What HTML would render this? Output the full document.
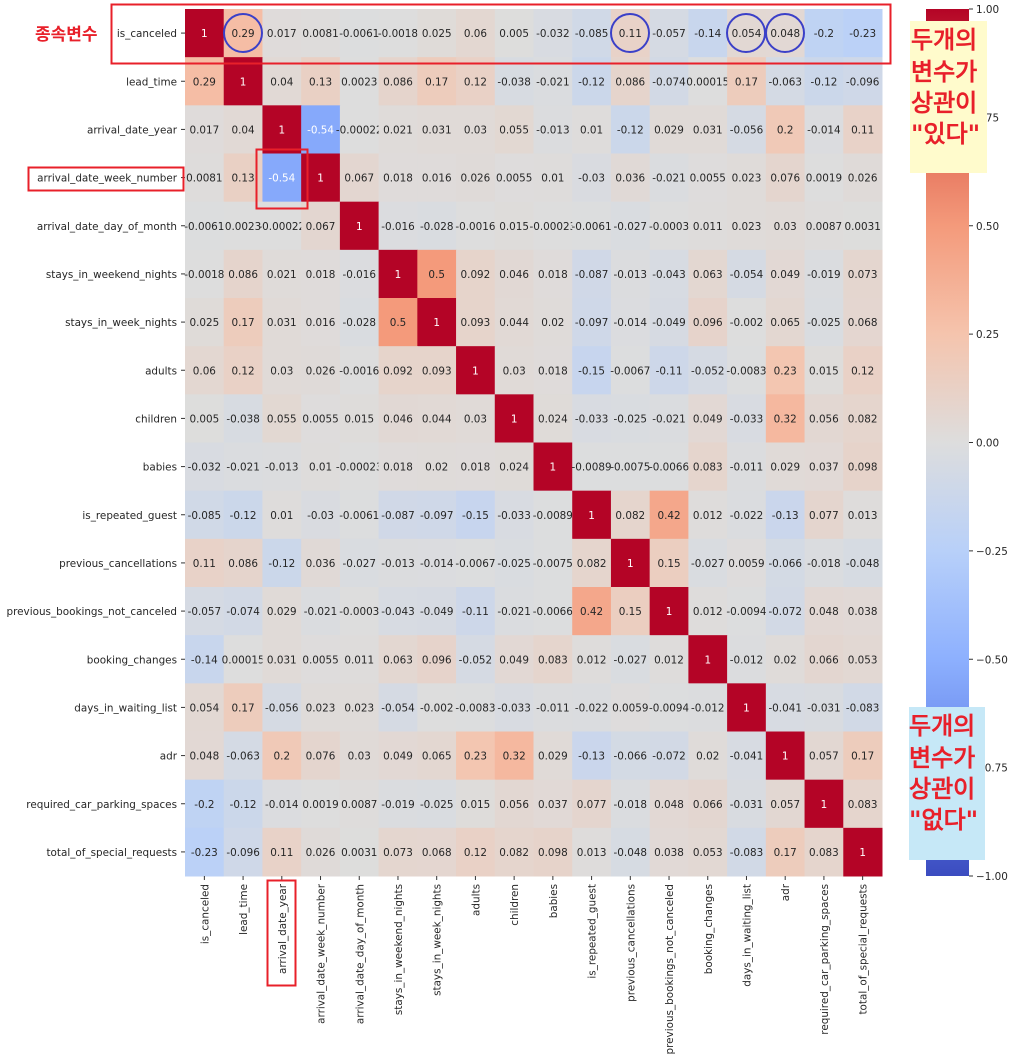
<!DOCTYPE html>
<html><head><meta charset="utf-8"><style>
body{margin:0;background:#fff;width:1013px;height:1059px;overflow:hidden;font-family:"Liberation Sans","DejaVu Sans",sans-serif}
svg text{font-family:"DejaVu Sans","Liberation Sans",sans-serif}
.kr{font-family:"Liberation Sans","Noto Sans CJK KR",sans-serif;font-weight:bold}
</style></head><body>
<svg id="chart" width="1013" height="1059" xmlns="http://www.w3.org/2000/svg">
<defs><linearGradient id="cbg" x1="0" y1="1" x2="0" y2="0">
<stop offset="0" stop-color="rgb(59,76,192)"/><stop offset="0.125" stop-color="rgb(98,130,234)"/><stop offset="0.25" stop-color="rgb(141,176,254)"/><stop offset="0.375" stop-color="rgb(184,208,249)"/><stop offset="0.5" stop-color="rgb(221,221,221)"/><stop offset="0.625" stop-color="rgb(245,196,173)"/><stop offset="0.75" stop-color="rgb(244,154,123)"/><stop offset="0.875" stop-color="rgb(222,96,77)"/><stop offset="1" stop-color="rgb(180,4,38)"/></linearGradient></defs>
<g id="cells"></g><g id="labels"></g>
<g id="cbar"></g>
</svg>
<script>
const labels=["is_canceled","lead_time","arrival_date_year","arrival_date_week_number","arrival_date_day_of_month","stays_in_weekend_nights","stays_in_week_nights","adults","children","babies","is_repeated_guest","previous_cancellations","previous_bookings_not_canceled","booking_changes","days_in_waiting_list","adr","required_car_parking_spaces","total_of_special_requests"];
const r0=[1,0.29,0.017,0.0081,-0.0061,-0.0018,0.025,0.06,0.005,-0.032,-0.085,0.11,-0.057,-0.14,0.054,0.048,-0.2,-0.23];
const r1=[0.29,1,0.04,0.13,0.0023,0.086,0.17,0.12,-0.038,-0.021,-0.12,0.086,-0.074,0.00015,0.17,-0.063,-0.12,-0.096];
const r2=[0.017,0.04,1,-0.54,-0.00022,0.021,0.031,0.03,0.055,-0.013,0.01,-0.12,0.029,0.031,-0.056,0.2,-0.014,0.11];
const r3=[0.0081,0.13,-0.54,1,0.067,0.018,0.016,0.026,0.0055,0.01,-0.03,0.036,-0.021,0.0055,0.023,0.076,0.0019,0.026];
const r4=[-0.0061,0.0023,-0.00022,0.067,1,-0.016,-0.028,-0.0016,0.015,-0.00023,-0.0061,-0.027,-0.0003,0.011,0.023,0.03,0.0087,0.0031];
const r5=[-0.0018,0.086,0.021,0.018,-0.016,1,0.5,0.092,0.046,0.018,-0.087,-0.013,-0.043,0.063,-0.054,0.049,-0.019,0.073];
const r6=[0.025,0.17,0.031,0.016,-0.028,0.5,1,0.093,0.044,0.02,-0.097,-0.014,-0.049,0.096,-0.002,0.065,-0.025,0.068];
const r7=[0.06,0.12,0.03,0.026,-0.0016,0.092,0.093,1,0.03,0.018,-0.15,-0.0067,-0.11,-0.052,-0.0083,0.23,0.015,0.12];
const r8=[0.005,-0.038,0.055,0.0055,0.015,0.046,0.044,0.03,1,0.024,-0.033,-0.025,-0.021,0.049,-0.033,0.32,0.056,0.082];
const r9=[-0.032,-0.021,-0.013,0.01,-0.00023,0.018,0.02,0.018,0.024,1,-0.0089,-0.0075,-0.0066,0.083,-0.011,0.029,0.037,0.098];
const r10=[-0.085,-0.12,0.01,-0.03,-0.0061,-0.087,-0.097,-0.15,-0.033,-0.0089,1,0.082,0.42,0.012,-0.022,-0.13,0.077,0.013];
const r11=[0.11,0.086,-0.12,0.036,-0.027,-0.013,-0.014,-0.0067,-0.025,-0.0075,0.082,1,0.15,-0.027,0.0059,-0.066,-0.018,-0.048];
const r12=[-0.057,-0.074,0.029,-0.021,-0.0003,-0.043,-0.049,-0.11,-0.021,-0.0066,0.42,0.15,1,0.012,-0.0094,-0.072,0.048,0.038];
const r13=[-0.14,0.00015,0.031,0.0055,0.011,0.063,0.096,-0.052,0.049,0.083,0.012,-0.027,0.012,1,-0.012,0.02,0.066,0.053];
const r14=[0.054,0.17,-0.056,0.023,0.023,-0.054,-0.002,-0.0083,-0.033,-0.011,-0.022,0.0059,-0.0094,-0.012,1,-0.041,-0.031,-0.083];
const r15=[0.048,-0.063,0.2,0.076,0.03,0.049,0.065,0.23,0.32,0.029,-0.13,-0.066,-0.072,0.02,-0.041,1,0.057,0.17];
const r16=[-0.2,-0.12,-0.014,0.0019,0.0087,-0.019,-0.025,0.015,0.056,0.037,0.077,-0.018,0.048,0.066,-0.031,0.057,1,0.083];
const r17=[-0.23,-0.096,0.11,0.026,0.0031,0.073,0.068,0.12,0.082,0.098,0.013,-0.048,0.038,0.053,-0.083,0.17,0.083,1];
const matrix=[r0,r1,r2,r3,r4,r5,r6,r7,r8,r9,r10,r11,r12,r13,r14,r15,r16,r17];
const cbTicks=[1,0.75,0.5,0.25,0,-0.25,-0.5,-0.75,-1];

const NS="http://www.w3.org/2000/svg";
const FS='10.4';
const X0=185,X1=882,Y0=9,Y1=876,n=labels.length,cw=(X1-X0)/n,ch=(Y1-Y0)/n;
const xs=i=>X0+i*cw, ys=i=>Y0+i*ch;
const CB={x:926,w:43,y0:9,y1:876};
const cy=v=>CB.y1-(v+1)/2*(CB.y1-CB.y0);
const stops=[[59,76,192],[98,130,234],[141,176,254],[184,208,249],[221,221,221],[245,196,173],[244,154,123],[222,96,77],[180,4,38]];
function color(v){let t=(v+1)/2*8;let i=Math.min(7,Math.floor(t)),f=t-i;const a=stops[i],b=stops[i+1];
return `rgb(${a.map((c,k)=>Math.round(c+(b[k]-c)*f)).join(',')})`;}
function mk(tag,attrs,parent){const e=document.createElementNS(NS,tag);for(const k in attrs)e.setAttribute(k,attrs[k]);parent.appendChild(e);return e;}
const gc=document.getElementById('cells'),gl=document.getElementById('labels'),gb=document.getElementById('cbar');
matrix.forEach((row,r)=>row.forEach((v,c)=>{
 const rc=mk('rect',{x:xs(c),y:ys(r),width:cw+0.5,height:ch+0.5,fill:color(v)},gc);
 
 
 const t=mk('text',{x:xs(c)+cw/2,y:ys(r)+ch/2+4,'text-anchor':'middle','font-size':FS,fill:(v>0.6||v<-0.45)?'#fff':'#262626'},gc);
 t.textContent=String(v);
 
 
}));
labels.forEach((l,i)=>{
 const t=mk('text',{x:X0-8,y:ys(i)+ch/2+4,'text-anchor':'end','font-size':FS,fill:'#262626'},gl);
 t.textContent=l;
 
 
 mk('line',{x1:X0-4,x2:X0,y1:ys(i)+ch/2,y2:ys(i)+ch/2,stroke:'#333'},gl);
 const cx=xs(i)+cw/2;
 mk('line',{x1:cx,x2:cx,y1:Y1,y2:Y1+4,stroke:'#333'},gl);
 const u=mk('text',{x:0,y:0,'text-anchor':'end','font-size':FS,fill:'#262626',transform:`translate(${cx+4},${Y1+8}) rotate(-90)`},gl);
 u.textContent=l;
 
 
});
mk('rect',{x:CB.x,y:CB.y0,width:CB.w,height:CB.y1-CB.y0,fill:'url(#cbg)'},gb);
cbTicks.forEach(v=>{
 mk('line',{x1:CB.x+CB.w,x2:CB.x+CB.w+4,y1:cy(v),y2:cy(v),stroke:'#333'},gb);
 const t=mk('text',{x:CB.x+CB.w+7,y:cy(v)+4,'font-size':FS,fill:'#262626'},gb);
 t.textContent=v.toFixed(2).replace('-','\u2212');
 
 
});
</script>
<svg style="position:absolute;left:0;top:0" width="1013" height="1059">
<rect x="111.5" y="4.5" width="779" height="59" fill="none" stroke="#e8202a" stroke-width="2"/>
<rect x="28.5" y="167.5" width="155" height="23" fill="none" stroke="#e8202a" stroke-width="2"/>
<rect x="256.5" y="149.5" width="51" height="59" fill="none" stroke="#e8202a" stroke-width="2"/>
<rect x="267.5" y="880.5" width="28" height="105" fill="none" stroke="#e8202a" stroke-width="2"/>
<circle cx="243" cy="33" r="19" fill="none" stroke="#3b40c8" stroke-width="2"/>
<circle cx="630" cy="33" r="19" fill="none" stroke="#3b40c8" stroke-width="2"/>
<circle cx="746" cy="33" r="19" fill="none" stroke="#3b40c8" stroke-width="2"/>
<circle cx="785" cy="33" r="19" fill="none" stroke="#3b40c8" stroke-width="2"/>
<text class="kr" x="35" y="40" font-size="17" fill="#e8202a">종속변수</text>
<rect x="910" y="21" width="77" height="152" fill="#fffbcc"/>
<g class="kr" font-size="24" fill="#e8202a">
<text x="911" y="48">두개의</text><text x="911" y="80">변수가</text><text x="911" y="111">상관이</text><text x="911" y="142">"있다"</text></g>
<rect x="909" y="707" width="76" height="153" fill="#c6e8f7"/>
<g class="kr" font-size="24" fill="#e8202a">
<text x="909" y="734">두개의</text><text x="909" y="766">변수가</text><text x="909" y="797">상관이</text><text x="909" y="828">"없다"</text></g>
</svg>
</body></html>
